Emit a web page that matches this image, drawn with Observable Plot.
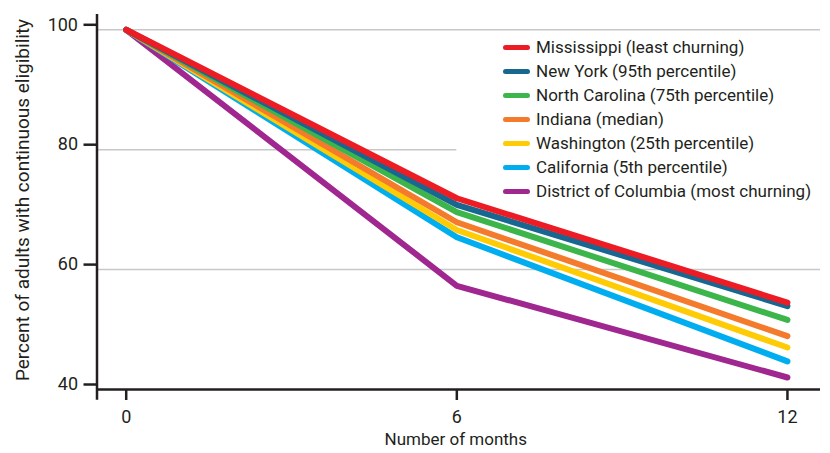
<!DOCTYPE html>
<html>
<head>
<meta charset="utf-8">
<script src="https://cdn.jsdelivr.net/npm/d3@7"></script>
<script src="https://cdn.jsdelivr.net/npm/@observablehq/plot@0.6"></script>
<style>
  html, body { margin: 0; padding: 0; background: #fff; }
  #wrap { position: relative; width: 830px; height: 453px; font-family: Roboto, "Noto Sans", sans-serif; color: #231f20; }
  #legend { position: absolute; left: 503px; top: 35px; }
  .row { display: flex; align-items: center; height: 24px; font-size: 17px; white-space: nowrap; }
  .sw { display: inline-block; width: 27px; height: 5px; border-radius: 3px; margin-right: 6px; }
</style>
</head>
<body>
<div id="wrap"><div id="legend"></div></div>
<script>
const states = [
  "Mississippi (least churning)",
  "New York (95th percentile)",
  "North Carolina (75th percentile)",
  "Indiana (median)",
  "Washington (25th percentile)",
  "California (5th percentile)",
  "District of Columbia (most churning)"
];
const colors = ["#ed1c24", "#186790", "#3cb54a", "#f47a2c", "#ffcb05", "#00adee", "#a0278f"];
const months = [0, 6, 12];
const at0 = [100, 100, 100, 100, 100, 100, 100];
const at6 = [71.9, 70.8, 69.6, 67.9, 66.6, 65.4, 57.3];
const at12 = [54.5, 53.9, 51.6, 48.9, 47.0, 44.7, 42.0];
const yTicks = [40, 60, 80, 100];
const xTicks = [0, 6, 12];
const xLabel = "Number of months";
const yLabel = "Percent of adults with continuous eligibility";

const series = [at0, at6, at12];
// draw most-churning first so Mississippi ends on top
const data = states.map((s, i) => i).reverse().flatMap(i =>
  months.map((m, j) => ({state: states[i], month: m, value: series[j][i]}))
);

const xMin = -0.53, xMax = 12.6, yMin = 40, yMax = 102.55, yAxisBottom = 38.2;
const ink = "#231f20";

const chart = Plot.plot({
  width: 830,
  height: 453,
  marginLeft: 96.5,
  marginRight: 10,
  marginTop: 14,
  marginBottom: 64,
  style: {fontFamily: "Roboto, 'Noto Sans', sans-serif", fontSize: "16px", color: ink, background: "white"},
  x: {domain: [xMin, xMax], axis: null},
  y: {domain: [yMin, yMax], axis: null},
  color: {domain: states, range: colors},
  marks: [
    Plot.ruleY([100, 60], {x1: xMin, x2: xMax, stroke: "#c8c8c8", strokeWidth: 1.5}),
    Plot.ruleY([80], {x1: xMin, x2: 6, stroke: "#c8c8c8", strokeWidth: 1.5}),
    Plot.line(data, {x: "month", y: "value", z: "state", stroke: "state", strokeWidth: 6, strokeLinecap: "round", strokeLinejoin: "round"}),
    Plot.ruleY([yMin], {x1: xMin, x2: xMax, stroke: ink, strokeWidth: 2.5}),
    Plot.ruleX([xMin], {y1: yAxisBottom, y2: yMax, stroke: ink, strokeWidth: 2.5}),
    Plot.axisY(yTicks, {anchor: "left", tickSize: 13, tickPadding: 6, strokeWidth: 2.5, stroke: ink, fill: ink, fontSize: 18, dy: -5, label: null}),
    Plot.axisX(xTicks, {anchor: "bottom", tickSize: 11, tickPadding: 10, strokeWidth: 2.5, stroke: ink, fill: ink, fontSize: 18, label: null}),
    Plot.text([xLabel], {frameAnchor: "bottom", dx: -3, dy: 55, fontSize: 17, fill: ink}),
    Plot.text([yLabel], {frameAnchor: "left", textAnchor: "middle", rotate: -90, dx: -74, dy: -2, fontSize: 19, fill: ink})
  ]
});
document.getElementById("wrap").prepend(chart);

const legend = d3.select("#legend");
states.forEach((s, i) => {
  const row = legend.append("div").attr("class", "row");
  row.append("span").attr("class", "sw").style("background", colors[i]);
  row.append("span").text(s);
});
</script>
</body>
</html>
